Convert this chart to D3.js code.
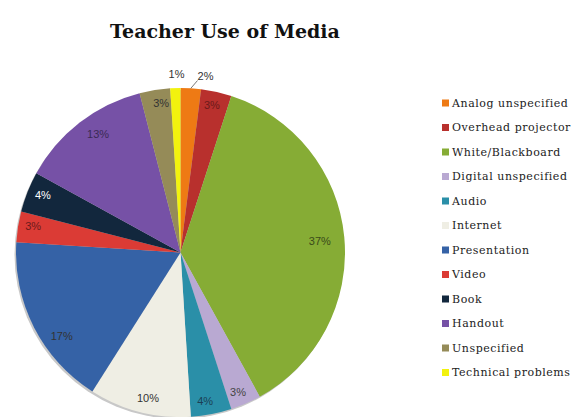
<!DOCTYPE html>
<html><head><meta charset="utf-8">
<script src="https://cdn.jsdelivr.net/npm/d3@7"></script>
<style>body{margin:0;background:#fff}svg{display:block}</style>
</head><body>
<svg id="c" width="576" height="417"></svg>
<script>
const categories = ["Analog unspecified","Overhead projector","White/Blackboard","Digital unspecified","Audio","Internet","Presentation","Video","Book","Handout","Unspecified","Technical problems"];
const values = [2,3,37,3,4,10,17,3,4,13,3,1];
const colors = ["#EE7A14","#B8302D","#86AC35","#B9A9D2","#2A8FA8","#EFEEE4","#3562A6","#DB3B35","#12273D","#7651A6","#958B58","#F2F20E"];
const labelColors = ["#333","#6b1a1a","#3a4a1a","#444","#1b3f55","#333","#333","#6b1a1a","#ffffff","#3a2a55","#333","#333"];
const title = "Teacher Use of Media";

const svg = d3.select("#c");
const cx = 180.5, cy = 252.5, r = 164.5;

svg.append("text").attr("x", 225).attr("y", 38).attr("text-anchor","middle")
  .attr("font-family","'DejaVu Serif', serif").attr("font-weight","bold").attr("font-size",19)
  .attr("fill","#111").text(title);

const pie = d3.pie().sort(null).value(d => d)(values);
const arc = d3.arc().innerRadius(0).outerRadius(r);
const g = svg.append("g").attr("transform",`translate(${cx},${cy})`);

g.append("circle").attr("r", r).attr("cx",-1.5).attr("cy",2).attr("fill","#c8c8c8");
g.selectAll("path.s").data(pie).join("path").attr("class","s")
  .attr("d", arc).attr("fill",(d,i)=>colors[i]);

// [radius factor, angle offset in degrees]
const lblPos = [[1.1,0],[0.917,-0.6],[0.85,0.7],[0.917,1],[0.915,1.4],[0.906,-1.8],[0.885,-8.3],[0.91,1],[0.906,1],[0.878,3],[0.917,1.6],[1.08,0]];
pie.forEach((d,i) => {
  const a = (d.startAngle + d.endAngle)/2 + lblPos[i][1]*Math.PI/180;
  let rr = r*lblPos[i][0];
  let x = Math.sin(a)*rr, y = -Math.cos(a)*rr;
  if (i === 0) { x = 25; y = -176; }
  if (i === 11) { x = -4; y = -178; }
  g.append("text").attr("x",x).attr("y",y).attr("dy","0.35em").attr("text-anchor","middle")
    .attr("font-family","'Liberation Sans', Arial, sans-serif").attr("font-size",11)
    .attr("fill",labelColors[i]).text(values[i] + "%");
});
// leader line for 2%
const a0 = (pie[0].startAngle + pie[0].endAngle)/2;
g.append("line").attr("x1",Math.sin(a0)*r*1.0).attr("y1",-Math.cos(a0)*r*1.0)
  .attr("x2",17).attr("y2",-172).attr("stroke","#555").attr("stroke-width",0.8);

const leg = svg.append("g");
categories.forEach((c,i) => {
  const y = 103 + i*24.5;
  leg.append("rect").attr("x",442).attr("y",y-3.5).attr("width",7).attr("height",7).attr("fill",colors[i]);
  leg.append("text").attr("x",452).attr("y",y).attr("dy","0.35em")
    .attr("font-family","'DejaVu Serif', serif").attr("font-size",11).attr("letter-spacing",0.55)
    .attr("fill","#222").text(c);
});
</script>
</body></html>
